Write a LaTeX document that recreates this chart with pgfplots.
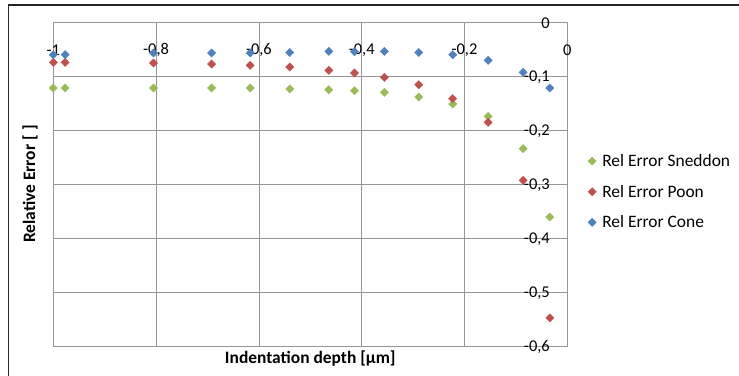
\documentclass[border=0pt]{standalone}
\usepackage{fontspec}
\setmainfont{Carlito}
\usepackage{pgfplots}
\pgfplotsset{compat=1.18}
\definecolor{cgreen}{RGB}{155,187,89}
\definecolor{cred}{RGB}{192,80,77}
\definecolor{cblue}{RGB}{79,129,189}
\definecolor{cgrid}{RGB}{150,150,150}
\begin{document}
\begin{tikzpicture}
\useasboundingbox (0,0) rectangle (739bp,376bp);
\draw[black!85, line width=1.8bp] (8.5bp,0) -- (8.5bp,371bp) -- (739bp,371bp);
\begin{axis}[
  at={(53.3bp,30bp)}, anchor=south west,
  scale only axis, width=514bp, height=324bp,
  xmin=-1, xmax=0, ymin=-0.6, ymax=0,
  xtick={-1,-0.8,-0.6,-0.4,-0.2,0},
  ytick={-0.6,-0.5,-0.4,-0.3,-0.2,-0.1,0},
  major tick length=0pt,
  grid=major,
  major grid style={cgrid, line width=0.8bp},
  axis line style={cgrid, line width=0.8bp},
  /pgf/number format/assume math mode=true,
  /pgf/number format/use comma,
  xticklabel pos=upper,
  yticklabel pos=right,
  xticklabel style={anchor=center, yshift=-28bp},
  yticklabel style={anchor=east, xshift=-14bp, yshift=-1bp},
  tick label style={font=\fontsize{16.5}{20}\selectfont},
  xlabel={\textbf{Indentation depth [µm]}},
  ylabel={\textbf{Relative Error [ ]}},
  x label style={at={(axis description cs:0.5,-0.039)}, anchor=center, font=\fontsize{17.5}{21}\selectfont},
  y label style={at={(axis description cs:-0.045,0.5)}, anchor=center, font=\fontsize{17.5}{21}\selectfont},
  legend style={at={(axis description cs:1.04,0.476)}, anchor=west, draw=none, fill=none,
    font=\fontsize{17.5}{21}\selectfont, row sep=13bp, column sep=4bp, inner sep=0pt},
  legend cell align=left,
  legend image code/.code={\draw[#1] plot coordinates {(0.1cm,0cm)};},
  every axis plot/.append style={only marks, mark=square*, mark size=2.9bp},
]
\addplot[cgreen, mark options={fill=cgreen, draw=none, rotate=45}] coordinates {
(-1.000,-0.1222) (-0.977,-0.1222) (-0.805,-0.1222) (-0.692,-0.1222) (-0.617,-0.1222)
(-0.540,-0.1241) (-0.464,-0.1254) (-0.414,-0.1272) (-0.356,-0.1304) (-0.289,-0.1389)
(-0.223,-0.1519) (-0.154,-0.1748) (-0.086,-0.2346) (-0.034,-0.3611)};
\addlegendentry{Rel Error Sneddon}
\addplot[cred, mark options={fill=cred, draw=none, rotate=45}] coordinates {
(-1.000,-0.0748) (-0.977,-0.0748) (-0.805,-0.0759) (-0.692,-0.0778) (-0.617,-0.0804)
(-0.540,-0.0833) (-0.464,-0.0896) (-0.414,-0.0944) (-0.356,-0.1026) (-0.289,-0.1161)
(-0.223,-0.1420) (-0.154,-0.1859) (-0.086,-0.2933) (-0.034,-0.5480)};
\addlegendentry{Rel Error Poon}
\addplot[cblue, mark options={fill=cblue, draw=none, rotate=45}] coordinates {
(-1.000,-0.0606) (-0.977,-0.0606) (-0.805,-0.0574) (-0.692,-0.0574) (-0.617,-0.0574)
(-0.540,-0.0563) (-0.464,-0.0544) (-0.414,-0.0550) (-0.356,-0.0544) (-0.289,-0.0563)
(-0.223,-0.0606) (-0.154,-0.0711) (-0.086,-0.0933) (-0.034,-0.1222)};
\addlegendentry{Rel Error Cone}
\end{axis}
\end{tikzpicture}
\end{document}
